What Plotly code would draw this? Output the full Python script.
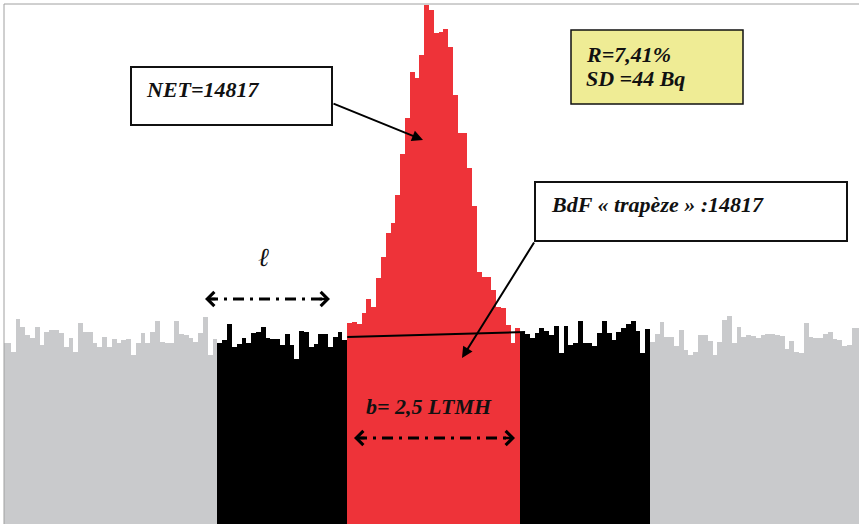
import numpy as np
import plotly.graph_objects as go

# Counts per channel, left to right
gray_left = [181, 181, 172, 205, 197, 189, 186, 197, 179, 192, 194, 194, 191, 177, 186,
             172, 201, 192, 192, 181, 177, 187, 177, 185, 181, 184, 185, 169, 181, 191,
             181, 192, 203, 182, 181, 181, 203, 190, 189, 186, 182, 191, 207, 169, 185]
black_left = [181, 184, 200, 177, 180, 186, 181, 191, 192, 197, 186, 185, 185, 179, 190,
              179, 165, 193, 192, 177, 180, 190, 190, 177, 187, 192, 184]
peak = [201, 202, 200, 211, 225, 217, 246, 267, 291, 301, 329, 370, 406, 452, 446, 469,
        519, 514, 491, 492, 495, 477, 429, 391, 391, 356, 318, 252, 247, 247, 234, 217,
        216, 199, 181, 196]
black_right = [191, 190, 186, 191, 196, 193, 189, 198, 171, 198, 179, 181, 203, 181, 181,
               178, 191, 203, 191, 184, 192, 196, 200, 203, 193, 171, 195]
gray_right = [182, 190, 202, 187, 187, 178, 194, 174, 169, 172, 189, 189, 183, 169, 182,
              204, 208, 181, 197, 187, 189, 188, 186, 189, 190, 190, 189, 188, 175, 183,
              172, 171, 201, 187, 186, 186, 190, 192, 185, 184, 178, 179, 196, 196]

# Trapezoid background under the peak (start / end level)
trap_x = [72, 109]
trap_y = [187, 192]

GRAY, BLACK, RED = "#C9CACC", "#000000", "#EE3339"

segments = [(gray_left, GRAY), (black_left, BLACK), (peak, RED),
            (black_right, BLACK), (gray_right, GRAY)]

fig = go.Figure()
start = 0
for vals, col in segments:
    ch = np.arange(start, start + len(vals))
    fig.add_trace(go.Bar(x=ch + 0.5, y=vals, width=1.0, marker=dict(color=col, line=dict(width=0)),
                         showlegend=False, hoverinfo="skip"))
    start += len(vals)

fig.add_trace(go.Scatter(x=trap_x, y=trap_y, mode="lines", line=dict(color="black", width=2),
                         showlegend=False, hoverinfo="skip"))

W, H = 859, 524
L, T = 4, 4


def px(x):
    return (x - L) / (W - L)


def py(y):
    return (H - y) / (H - T)


shapes = []
# frame
shapes.append(dict(type="line", xref="paper", yref="paper", x0=0, x1=1, y0=1, y1=1,
                   line=dict(color="#A0A0A0", width=1)))
shapes.append(dict(type="line", xref="paper", yref="paper", x0=0, x1=0, y0=0, y1=1,
                   line=dict(color="#A0A0A0", width=1)))
# boxes
for (x0, y0, x1, y1, fill, lw) in [(131, 67, 332, 125, "white", 2),
                                   (571, 30, 743, 104, "#EFEC95", 1.5),
                                   (535, 182, 847, 241, "white", 2)]:
    shapes.append(dict(type="rect", xref="paper", yref="paper",
                       x0=px(x0), x1=px(x1), y0=py(y1), y1=py(y0),
                       fillcolor=fill, line=dict(color="#111111", width=lw)))
# dash-dot spans
for (x0, x1, y) in [(207, 328, 299), (356, 513, 438)]:
    shapes.append(dict(type="line", xref="paper", yref="paper",
                       x0=px(x0), x1=px(x1), y0=py(y), y1=py(y),
                       line=dict(color="black", width=3, dash="11px,6px,3px,6px")))

font = dict(family="Liberation Serif", size=22, color="#111111")
ann = []


def text(x, y, s, size=22):
    ann.append(dict(xref="paper", yref="paper", x=px(x), y=py(y), text=s, showarrow=False,
                    xanchor="left", yanchor="middle", font=dict(font, size=size)))


text(144, 90, "<b><i>NET=14817</i></b>")
text(584, 55, "<b><i>R=7,41%</i></b>")
text(584, 78, "<b><i>SD =44 Bq</i></b>")
text(549, 205, "<b><i>BdF « trapèze » :14817</i></b>")
text(364, 406, "<b><i>b= 2,5 LTMH</i></b>")
text(256, 257, "<i>ℓ</i>", size=26)

# pointer arrows
for (tx, ty, sx, sy) in [(423, 140, 332, 103), (462, 358, 535, 241)]:
    ann.append(dict(xref="paper", yref="paper", x=px(tx), y=py(ty), ax=sx - tx, ay=sy - ty,
                    text="", showarrow=True, arrowhead=2, arrowsize=1.1, arrowwidth=2,
                    arrowcolor="black"))
# open heads on the dash-dot spans
for (tx, ty, d) in [(205, 299, 1), (330, 299, -1), (354, 438, 1), (515, 438, -1)]:
    ann.append(dict(xref="paper", yref="paper", x=px(tx), y=py(ty), ax=12 * d, ay=0,
                    text="", showarrow=True, arrowhead=4, arrowsize=1.2, arrowwidth=2.3,
                    arrowcolor="black"))

fig.update_layout(
    width=W, height=H, margin=dict(l=L, r=0, t=T, b=0),
    paper_bgcolor="white", plot_bgcolor="white",
    bargap=0, barmode="overlay",
    xaxis=dict(range=[0.58, 178.48], visible=False),
    yaxis=dict(range=[0, 520], visible=False),
    shapes=shapes, annotations=ann, showlegend=False,
)

fig.write_html("out.html")
